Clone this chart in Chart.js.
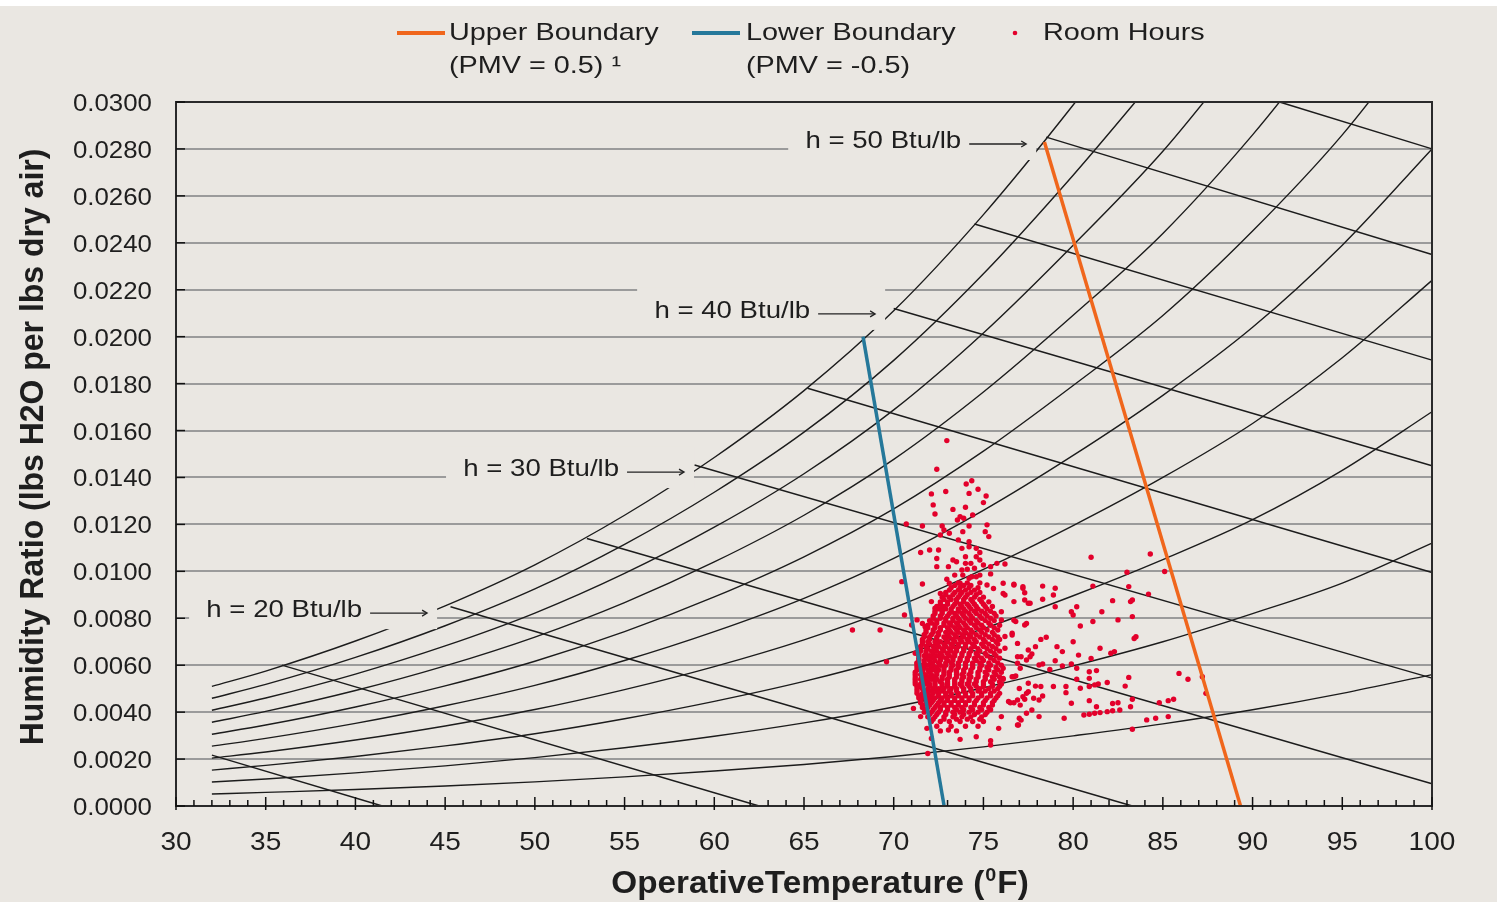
<!DOCTYPE html>
<html>
<head>
<meta charset="utf-8">
<script src="https://cdn.jsdelivr.net/npm/chart.js@4.4.1/dist/chart.umd.min.js"></script>
<style>
  html, body { margin: 0; padding: 0; background: #fff; }
</style>
</head>
<body>
<canvas id="psyChart" width="1497" height="902"></canvas>
<script>
// relative humidity curves (10% .. 100%), humidity ratio read at these temperatures
var rhTemps = [32, 35, 40, 45, 50, 55, 60, 65, 70, 75, 80, 85, 90, 95, 100];
var rh100 = [0.00510, 0.00575, 0.00703, 0.00853, 0.01028, 0.01239, 0.01485, 0.01770, 0.02110, 0.02520, 0.02987, 0.0349];
var rh90 = [0.00459, 0.00518, 0.00633, 0.00768, 0.00925, 0.01115, 0.01337, 0.01593, 0.01899, 0.02268, 0.02688, 0.0314];
var rh80 = [0.00408, 0.00460, 0.00562, 0.00682, 0.00822, 0.00991, 0.01188, 0.01416, 0.01688, 0.02016, 0.02390, 0.0279, 0.0326];
var rh70 = [0.00357, 0.00403, 0.00492, 0.00597, 0.00720, 0.00867, 0.01040, 0.01239, 0.01477, 0.01764, 0.02091, 0.0244, 0.0286, 0.0334];
var rh60 = [0.00306, 0.00345, 0.00422, 0.00512, 0.00617, 0.00743, 0.00891, 0.01062, 0.01266, 0.01512, 0.01792, 0.0209, 0.0245, 0.0286, 0.0335];
var rh50 = [0.00255, 0.00288, 0.00352, 0.00427, 0.00514, 0.00620, 0.00743, 0.00885, 0.01055, 0.01260, 0.01494, 0.0175, 0.0204, 0.0239, 0.0280];
var rh40 = [0.00204, 0.00230, 0.00281, 0.00341, 0.00411, 0.00496, 0.00594, 0.00708, 0.00844, 0.01008, 0.01195, 0.0140, 0.0163, 0.0191, 0.0224];
var rh30 = [0.00153, 0.00173, 0.00211, 0.00256, 0.00308, 0.00372, 0.00446, 0.00531, 0.00633, 0.00756, 0.00896, 0.0105, 0.0122, 0.0143, 0.0168];
var rh20 = [0.00102, 0.00115, 0.00141, 0.00171, 0.00206, 0.00248, 0.00297, 0.00354, 0.00422, 0.00504, 0.00597, 0.0070, 0.0082, 0.0095, 0.0112];
var rh10 = [0.00051, 0.00058, 0.00070, 0.00085, 0.00103, 0.00124, 0.00149, 0.00177, 0.00211, 0.00252, 0.00299, 0.0035, 0.0041, 0.0048, 0.0056];

// constant enthalpy lines h = 10 .. 55 Btu/lb, [temp, humidity ratio] at both ends
var enthalpyStart = [[32, 0.00217], [35.9, 0.0060], [45.3, 0.00849], [52.9, 0.0114], [58.9, 0.01453],
                     [65.2, 0.0178], [70.0, 0.0212], [74.5, 0.0248], [78.5, 0.0285], [91.5, 0.0300]];
var enthalpyEnd = [[41.5, 0], [62.5, 0], [83.3, 0], [100, 0.00095], [100, 0.00545],
                   [100, 0.00995], [100, 0.0145], [100, 0.0190], [100, 0.0235], [100, 0.0280]];

// comfort boundaries
var upperBoundary = [[78.4, 0.0283], [89.33, 0]];
var lowerBoundary = [[68.29, 0.0200], [72.81, 0]];

// room hours - scattered points [temp, humidity ratio]
var roomLoose = [
  [72.96,0.01557],[72.4,0.01435],[72.1,0.01330],[72.9,0.01340],[74.04,0.01372],[74.35,0.01386],[74.7,0.01350],
  [74.2,0.01332],[75.15,0.01321],[72.2,0.01283],[72.3,0.01244],[73.3,0.01264],[74.0,0.01273],[75.0,0.01293],
  [73.7,0.01233],[74.4,0.01240],[73.55,0.01219],[73.9,0.01226],[75.2,0.01198],[70.7,0.01202],[71.6,0.01193],
  [72.7,0.01193],[72.8,0.01176],[72.6,0.01155],[73.1,0.01162],[73.85,0.01169],[74.2,0.01193],[75.1,0.01169],
  [75.3,0.01148],[74.2,0.01126],[74.2,0.01105],[73.6,0.01134],[71.5,0.01080],[72.0,0.01091],[72.5,0.01091],
  [74.6,0.01098],[74.8,0.01080],[72.4,0.01055],[72.4,0.01020],[73.05,0.01020],[73.3,0.01048],[73.5,0.01041],
  [74.0,0.01062],[74.0,0.01034],[74.1,0.01009],[74.6,0.01062],[74.8,0.01048],[75.0,0.01027],[75.4,0.01020],
  [75.75,0.01034],[76.2,0.01031],[75.4,0.00989],[74.8,0.00984],[74.35,0.00977],[73.85,0.00984],[70.45,0.00956],
  [71.6,0.00946],[72.96,0.00966],[75.56,0.00927],[76.1,0.00906],[76.7,0.00945],[77.2,0.00928],[77.5,0.00864],
  [72.6,0.00906],[72.1,0.00871],[72.3,0.00843],[72.7,0.00850],[70.6,0.00814],[71.0,0.00771],[71.3,0.00793],
  [71.6,0.00778],[71.75,0.00764],[69.24,0.00750],[67.7,0.00750],[69.6,0.00615],[71.2,0.00651],[71.3,0.00608],
  [71.4,0.00509],[71.5,0.00466],[71.1,0.00416],[71.5,0.00381],[71.85,0.00331],[72.1,0.00288],[71.9,0.00224],
  [73.05,0.00324],[73.7,0.00284],[74.6,0.00295],[75.4,0.00278],[75.4,0.00260],[75.85,0.00331],[76.0,0.00381],
  [76.5,0.00440],[76.95,0.00345],[77.4,0.00395],[77.05,0.00430],[77.4,0.00480],[77.5,0.00523],[76.7,0.00551],
  [77.05,0.00587],[76.9,0.00636],[77.4,0.00622],[77.5,0.00665],[76.9,0.00693],[76.6,0.00736],[76.2,0.00722],
  [76.7,0.00792],[77.4,0.00778],[77.3,0.00878],[76.0,0.00828],[76.0,0.00793],[75.6,0.00821],[76.1,0.00949],
  [76.7,0.00871],[73.8,0.01098],[74.3,0.01034],[74.5,0.01013],[73.8,0.01006],[73.4,0.00984],[74.6,0.00977],
  [74.2,0.00970],[73.1,0.00949],[73.7,0.00949],[74.8,0.00951],[75.2,0.00942],
  [81.0,0.0106],[84.3,0.01074],[83.0,0.00996],[85.1,0.00999],[81.1,0.00937],[83.1,0.00935],[84.2,0.00903],
  [82.2,0.00875],[83.2,0.00871],[83.3,0.00878],[81.6,0.00828],[83.3,0.00807],[82.5,0.00793],[81.1,0.00786],
  [80.4,0.00767],[79.9,0.00828],[80.2,0.00849],[80.0,0.00814],[79.0,0.00849],[77.6,0.00864],[78.3,0.00881],
  [78.9,0.00899],[79.0,0.00928],[78.3,0.00937],[77.2,0.00935],[77.3,0.00909],[76.7,0.00942],[76.2,0.00899],
  [83.4,0.00714],[83.5,0.00721],[81.5,0.00672],[82.3,0.00658],[82.1,0.00651],[81.0,0.00629],[80.3,0.00643],
  [80.0,0.00700],[79.4,0.00658],[79.1,0.00679],[78.5,0.00719],[78.2,0.00710],[77.9,0.00679],[77.7,0.00648],
  [77.6,0.00636],[77.1,0.00636],[76.9,0.00608],[76.8,0.00786],[77.3,0.00771],[76.6,0.00729],[76.2,0.00672],
  [78.1,0.00601],[78.3,0.00605],[78.7,0.00582],[79.0,0.00619],[79.4,0.00597],[79.9,0.00605],[80.2,0.00587],
  [80.9,0.00572],[81.3,0.00577],[81.9,0.00526],[83.1,0.00548],[82.9,0.00511],[80.9,0.00544],[80.9,0.00509],
  [81.2,0.00516],[81.4,0.00520],[80.4,0.00502],[80.2,0.00540],[79.6,0.00509],[79.6,0.00483],[78.9,0.00509],
  [78.2,0.00509],[77.9,0.00511],[77.5,0.00487],[77.2,0.00466],[77.0,0.00501],[76.8,0.00554],[76.6,0.00551],
  [76.1,0.00587],[76.1,0.00544],[76.4,0.00445],[76.7,0.00440],[76.9,0.00452],[77.3,0.00455],[77.8,0.00459],
  [78.1,0.00452],[78.3,0.00469],[79.9,0.00438],[80.9,0.00449],[81.3,0.00423],[82.2,0.00437],[82.5,0.00440],
  [83.3,0.00455],[83.2,0.00423],[79.5,0.00374],[80.6,0.00388],[80.9,0.00391],[81.2,0.00395],[81.5,0.00398],
  [81.9,0.00402],[82.2,0.00406],[82.6,0.00409],[78.1,0.00381],[77.7,0.00409],[77.0,0.00374],[76.9,0.00345],
  [77.1,0.00366],[84.8,0.00440],[85.3,0.00449],[85.6,0.00455],[84.1,0.00367],[84.6,0.00374],[85.3,0.00381],
  [83.3,0.00327],[85.9,0.00565],[86.4,0.00540],[87.2,0.00551],[87.4,0.00480]
];

// room hours - dense core, one row of temperatures per humidity ratio
var coreW = [0.0095, 0.0094, 0.0093, 0.0092, 0.0091, 0.0090, 0.0089, 0.0088, 0.0087, 0.0086, 0.0085, 0.0084,
             0.0083, 0.0082, 0.0081, 0.0080, 0.0079, 0.0078, 0.0077, 0.0076, 0.0075, 0.0074, 0.0073, 0.0072,
             0.0071, 0.0070, 0.0069, 0.0068, 0.0067, 0.0066, 0.0065, 0.0064, 0.0063, 0.0062, 0.0061, 0.0060,
             0.0059, 0.0058, 0.0057, 0.0056, 0.0055, 0.0054, 0.0053, 0.0052, 0.0051, 0.0050, 0.0049, 0.0048,
             0.0047, 0.0046, 0.0045, 0.0044, 0.0043, 0.0042, 0.0041, 0.0040, 0.0039, 0.0038, 0.0037, 0.0036,
             0.0034, 0.0032];
var coreT = [
  [73.6, 74.1],
  [73.4, 73.9, 74.3],
  [73.2, 73.7, 74.2, 74.7],
  [73.1, 73.6, 74.0, 74.5],
  [72.9, 73.4, 73.8, 74.3, 74.8],
  [72.9, 73.3, 73.7, 74.1, 74.6],
  [72.7, 73.1, 73.6, 74.0, 74.5, 75.0],
  [72.8, 73.2, 73.5, 73.9, 74.3, 74.8],
  [72.6, 73.0, 73.5, 73.9, 74.4, 74.9, 75.3],
  [72.6, 73.0, 73.4, 73.7, 74.1, 74.5, 75.0],
  [72.4, 72.8, 73.3, 73.8, 74.2, 74.6, 75.1, 75.5],
  [72.5, 72.9, 73.2, 73.6, 73.9, 74.3, 74.7, 75.2],
  [72.3, 72.7, 73.2, 73.6, 74.0, 74.5, 74.9, 75.4],
  [72.3, 72.7, 73.1, 73.4, 73.8, 74.2, 74.6, 75.1],
  [72.2, 72.6, 73.0, 73.5, 73.9, 74.3, 74.8, 75.2, 75.7],
  [72.2, 72.6, 72.9, 73.3, 73.6, 74.0, 74.4, 74.9, 75.4],
  [72.0, 72.4, 72.9, 73.3, 73.7, 74.2, 74.6, 75.1, 75.6],
  [72.1, 72.4, 72.8, 73.1, 73.5, 73.9, 74.3, 74.7, 75.3],
  [71.9, 72.3, 72.8, 73.2, 73.6, 74.0, 74.5, 74.9, 75.4, 75.9],
  [71.9, 72.3, 72.6, 73.0, 73.4, 73.7, 74.1, 74.6, 75.0, 75.6],
  [71.8, 72.2, 72.6, 73.1, 73.5, 73.9, 74.3, 74.8, 75.2, 75.8],
  [71.8, 72.2, 72.5, 72.9, 73.2, 73.6, 74.0, 74.4, 74.9, 75.5],
  [71.7, 72.1, 72.5, 73.0, 73.4, 73.8, 74.2, 74.6, 75.1, 75.6],
  [71.7, 72.0, 72.4, 72.8, 73.1, 73.5, 73.9, 74.3, 74.8, 75.3, 75.8],
  [71.6, 72.0, 72.4, 72.9, 73.3, 73.7, 74.1, 74.5, 75.0, 75.5, 75.9],
  [71.6, 71.9, 72.3, 72.6, 73.0, 73.4, 73.8, 74.2, 74.6, 75.1, 75.7],
  [71.6, 72.0, 72.4, 72.8, 73.2, 73.6, 74.0, 74.4, 74.9, 75.3, 75.8],
  [71.5, 71.8, 72.2, 72.5, 72.9, 73.3, 73.6, 74.0, 74.5, 75.0, 75.5],
  [71.5, 71.9, 72.3, 72.7, 73.1, 73.5, 73.9, 74.3, 74.7, 75.2, 75.7],
  [71.5, 71.8, 72.1, 72.4, 72.8, 73.2, 73.5, 73.9, 74.3, 74.8, 75.4, 75.9],
  [71.4, 71.8, 72.2, 72.6, 73.0, 73.4, 73.8, 74.2, 74.6, 75.1, 75.6],
  [71.4, 71.7, 72.0, 72.4, 72.7, 73.1, 73.4, 73.8, 74.2, 74.7, 75.2, 75.7],
  [71.4, 71.8, 72.2, 72.6, 72.9, 73.3, 73.7, 74.1, 74.5, 74.9, 75.4, 75.9],
  [71.4, 71.7, 72.0, 72.3, 72.6, 73.0, 73.3, 73.7, 74.1, 74.6, 75.0, 75.6],
  [71.3, 71.7, 72.1, 72.5, 72.9, 73.2, 73.6, 74.0, 74.4, 74.8, 75.3, 75.8],
  [71.3, 71.6, 71.9, 72.2, 72.6, 72.9, 73.3, 73.6, 74.0, 74.4, 74.9, 75.4, 76.0],
  [71.3, 71.7, 72.1, 72.4, 72.8, 73.2, 73.6, 74.0, 74.4, 74.8, 75.2, 75.7],
  [71.3, 71.6, 71.9, 72.2, 72.5, 72.8, 73.2, 73.5, 73.9, 74.3, 74.8, 75.3, 75.8],
  [71.2, 71.6, 72.0, 72.4, 72.8, 73.1, 73.5, 73.9, 74.3, 74.7, 75.1, 75.6, 76.0],
  [71.2, 71.5, 71.8, 72.1, 72.4, 72.8, 73.1, 73.5, 73.8, 74.2, 74.7, 75.2, 75.7],
  [71.2, 71.6, 72.0, 72.3, 72.7, 73.1, 73.5, 73.9, 74.3, 74.7, 75.1, 75.5, 75.9],
  [71.2, 71.5, 71.8, 72.1, 72.4, 72.7, 73.0, 73.4, 73.8, 74.2, 74.6, 75.1, 75.6, 76.1],
  [71.2, 71.6, 71.9, 72.3, 72.6, 73.0, 73.4, 73.8, 74.2, 74.6, 75.0, 75.4, 75.9],
  [71.2, 71.5, 71.8, 72.0, 72.3, 72.7, 73.0, 73.4, 73.7, 74.1, 74.5, 75.0, 75.5, 76.0],
  [71.3, 71.6, 72.0, 72.3, 72.7, 73.0, 73.4, 73.8, 74.2, 74.6, 75.0, 75.5, 75.9],
  [71.3, 71.6, 71.9, 72.2, 72.5, 72.8, 73.2, 73.5, 73.9, 74.3, 74.8, 75.3, 75.8],
  [71.3, 71.7, 72.0, 72.4, 72.7, 73.1, 73.5, 73.9, 74.3, 74.7, 75.1, 75.6],
  [71.3, 71.6, 71.9, 72.2, 72.5, 72.9, 73.2, 73.6, 74.0, 74.4, 74.9, 75.4, 75.9],
  [71.4, 71.8, 72.1, 72.5, 72.9, 73.2, 73.6, 74.0, 74.4, 74.9, 75.4, 75.8],
  [71.4, 71.7, 72.0, 72.3, 72.7, 73.0, 73.4, 73.8, 74.2, 74.7, 75.2, 75.7],
  [71.5, 71.9, 72.2, 72.6, 73.0, 73.4, 73.8, 74.2, 74.6, 75.1, 75.6],
  [71.5, 71.8, 72.1, 72.5, 72.8, 73.2, 73.6, 74.0, 74.5, 75.0, 75.5],
  [71.6, 72.0, 72.4, 72.8, 73.2, 73.6, 74.0, 74.5, 75.0, 75.5],
  [71.6, 71.9, 72.3, 72.6, 73.0, 73.4, 73.8, 74.3, 74.8, 75.3],
  [71.8, 72.2, 72.6, 73.0, 73.5, 73.9, 74.4, 74.9, 75.4],
  [71.7, 72.1, 72.5, 72.9, 73.3, 73.7, 74.2, 74.7, 75.2],
  [72.0, 72.4, 72.9, 73.4, 73.9, 74.5, 75.1],
  [71.9, 72.3, 72.8, 73.3, 73.8, 74.3, 74.9],
  [72.2, 72.8, 73.5, 74.1, 74.8],
  [72.1, 72.6, 73.1, 73.7, 74.4, 75.0],
  [72.4, 73.2, 74.0, 74.7],
  [72.6, 73.5]
];

// enthalpy labels and the point on the saturation curve each arrow points at
var enthalpyLabels = ['h = 20 Btu/lb', 'h = 30 Btu/lb', 'h = 40 Btu/lb', 'h = 50 Btu/lb'];
var labelTips = [[44.05, 0.00822], [58.37, 0.01423], [69.02, 0.02097], [77.44, 0.02821]];

// tick labels
var xTicks = [30, 35, 40, 45, 50, 55, 60, 65, 70, 75, 80, 85, 90, 95, 100];
var yTicks = ['0.0000', '0.0020', '0.0040', '0.0060', '0.0080', '0.0100', '0.0120', '0.0140',
              '0.0160', '0.0180', '0.0200', '0.0220', '0.0240', '0.0260', '0.0280', '0.0300'];

var BG = '#eae7e2';
var FONT = '"Liberation Sans", Arial, sans-serif';

// builds {x, y} points for the library
function toPoints(pairs) {
  return pairs.map(function (p) { return {x: p[0], y: p[1]}; });
}

var datasets = [];
datasets.push({label: 'Upper Boundary', data: toPoints(upperBoundary), showLine: true, borderColor: '#f0661c',
               borderWidth: 3.5, pointRadius: 0});
datasets.push({label: 'Lower Boundary', data: toPoints(lowerBoundary), showLine: true, borderColor: '#25789a',
               borderWidth: 3.5, pointRadius: 0});

var roomPoints = toPoints(roomLoose);
coreW.forEach(function (w, i) {
  coreT[i].forEach(function (t) { roomPoints.push({x: t, y: w}); });
});
datasets.push({label: 'Room Hours', data: roomPoints, showLine: false, pointRadius: 2.7,
               backgroundColor: '#e3002b', borderWidth: 0});

[rh100, rh90, rh80, rh70, rh60, rh50, rh40, rh30, rh20, rh10].forEach(function (curve) {
  datasets.push({
    data: curve.map(function (w, i) { return {x: rhTemps[i], y: w}; }),
    showLine: true, borderColor: '#1c1c1c', borderWidth: 1.4, pointRadius: 0,
    cubicInterpolationMode: 'monotone', clip: 1
  });
});
enthalpyStart.forEach(function (s, i) {
  datasets.push({data: toPoints([s, enthalpyEnd[i]]), showLine: true, borderColor: '#1c1c1c',
                 borderWidth: 1.4, pointRadius: 0, clip: 1});
});

// draws text with a horizontal stretch
function drawText(ctx, s, x, y, font, align, sx) {
  ctx.save();
  ctx.translate(x, y);
  ctx.scale(sx, 1);
  ctx.font = font;
  ctx.textAlign = align;
  ctx.textBaseline = 'alphabetic';
  ctx.fillStyle = '#1e1e1e';
  ctx.fillText(s, 0, 0);
  ctx.restore();
}

var decor = {
  id: 'decor',
  beforeDraw: function (chart) {
    var ctx = chart.ctx;
    ctx.save();
    ctx.fillStyle = BG;
    ctx.fillRect(0, 0, chart.width, chart.height);
    ctx.fillStyle = '#fff';
    ctx.fillRect(0, 0, chart.width, 6);
    ctx.restore();
  },
  afterDatasetsDraw: function (chart) {
    var ctx = chart.ctx, xs = chart.scales.x, ys = chart.scales.y;
    ctx.save();
    enthalpyLabels.forEach(function (txt, i) {
      var tx = xs.getPixelForValue(labelTips[i][0]);
      var ty = ys.getPixelForValue(labelTips[i][1]);
      ctx.fillStyle = BG;
      ctx.fillRect(tx - 239, ty - 26, 248, 42);
      drawText(ctx, txt, tx - 66, ty + 4, '24px ' + FONT, 'right', 1.15);
      ctx.strokeStyle = '#222';
      ctx.lineWidth = 1.3;
      ctx.beginPath();
      ctx.moveTo(tx - 58, ty);
      ctx.lineTo(tx - 2, ty);
      ctx.stroke();
      ctx.beginPath();
      ctx.moveTo(tx - 6, ty - 3);
      ctx.lineTo(tx - 1, ty);
      ctx.lineTo(tx - 6, ty + 3);
      ctx.stroke();
    });
    ctx.restore();
  },
  afterDraw: function (chart) {
    var ctx = chart.ctx, xs = chart.scales.x, ys = chart.scales.y, a = chart.chartArea;
    ctx.save();
    // frame
    ctx.strokeStyle = '#2a2a2a';
    ctx.lineWidth = 2;
    ctx.strokeRect(a.left, a.top, a.right - a.left, a.bottom - a.top);
    // x ticks: minor every degree, major every 5
    ctx.strokeStyle = '#111';
    ctx.lineWidth = 1.5;
    for (var t = 30; t <= 100; t++) {
      var px = xs.getPixelForValue(t);
      ctx.beginPath();
      if (t % 5 === 0) { ctx.moveTo(px, a.bottom - 9); ctx.lineTo(px, a.bottom + 4); }
      else { ctx.moveTo(px, a.bottom - 6); ctx.lineTo(px, a.bottom); }
      ctx.stroke();
    }
    xTicks.forEach(function (v) {
      drawText(ctx, String(v), xs.getPixelForValue(v), a.bottom + 44, '25.5px ' + FONT, 'center', 1.1);
    });
    // y ticks
    yTicks.forEach(function (lab) {
      var py = ys.getPixelForValue(parseFloat(lab));
      ctx.beginPath();
      ctx.moveTo(a.left, py);
      ctx.lineTo(a.left + 9, py);
      ctx.stroke();
      drawText(ctx, lab, a.left - 24, py + 9, '23.5px ' + FONT, 'right', 1.1);
    });
    // x title with superscript degree zero
    var bold = 'bold 32px ' + FONT, sup = 'bold 19px ' + FONT;
    ctx.font = bold;
    var w1 = ctx.measureText('OperativeTemperature (').width;
    var w3 = ctx.measureText('F)').width;
    ctx.font = sup;
    var w2 = ctx.measureText('0').width + 2;
    var sx = 1.04, total = (w1 + w2 + w3) * sx;
    var x0 = (a.left + a.right) / 2 + 16 - total / 2, base = 893;
    drawText(ctx, 'OperativeTemperature (', x0, base, bold, 'left', sx);
    drawText(ctx, '0', x0 + w1 * sx + 1, base - 12, sup, 'left', sx);
    drawText(ctx, 'F)', x0 + (w1 + w2) * sx, base, bold, 'left', sx);
    // y title
    ctx.save();
    ctx.translate(43, (a.top + a.bottom) / 2 - 7);
    ctx.rotate(-Math.PI / 2);
    ctx.scale(0.94, 1);
    ctx.font = 'bold 34px ' + FONT;
    ctx.textAlign = 'center';
    ctx.fillStyle = '#1e1e1e';
    ctx.fillText('Humidity Ratio (lbs H2O per lbs dry air)', 0, 0);
    ctx.restore();
    // legend
    var lf = '24px ' + FONT;
    ctx.lineWidth = 4;
    ctx.strokeStyle = '#f0661c';
    ctx.beginPath(); ctx.moveTo(397, 33); ctx.lineTo(445, 33); ctx.stroke();
    drawText(ctx, 'Upper Boundary', 449, 40, lf, 'left', 1.2);
    drawText(ctx, '(PMV = 0.5) \u00b9', 449, 73, lf, 'left', 1.2);
    ctx.strokeStyle = '#25789a';
    ctx.beginPath(); ctx.moveTo(692, 33); ctx.lineTo(740, 33); ctx.stroke();
    drawText(ctx, 'Lower Boundary', 746, 40, lf, 'left', 1.2);
    drawText(ctx, '(PMV = -0.5)', 746, 73, lf, 'left', 1.2);
    ctx.fillStyle = '#e3002b';
    ctx.beginPath(); ctx.arc(1015, 33, 2.3, 0, Math.PI * 2); ctx.fill();
    drawText(ctx, 'Room Hours', 1043, 40, lf, 'left', 1.2);
    ctx.restore();
  }
};

var ctx_psy = document.getElementById('psyChart').getContext('2d');
var psyChart = new Chart(ctx_psy, {
  type: 'scatter',
  data: {datasets: datasets},
  plugins: [decor],
  options: {
    responsive: false,
    animation: false,
    events: [],
    layout: {padding: {top: 102, right: 65, bottom: 0, left: 0}},
    plugins: {legend: {display: false}, tooltip: {enabled: false}},
    scales: {
      x: {
        type: 'linear', min: 30, max: 100,
        ticks: {display: false, stepSize: 5},
        grid: {display: false, drawTicks: false},
        border: {display: false},
        afterFit: function (s) { s.height = 96; }
      },
      y: {
        type: 'linear', min: 0, max: 0.03,
        ticks: {display: false, stepSize: 0.002},
        grid: {color: '#9b9b9b', lineWidth: 2, drawTicks: false},
        border: {display: false},
        afterFit: function (s) { s.width = 176; }
      }
    }
  }
});
</script>
</body>
</html>
